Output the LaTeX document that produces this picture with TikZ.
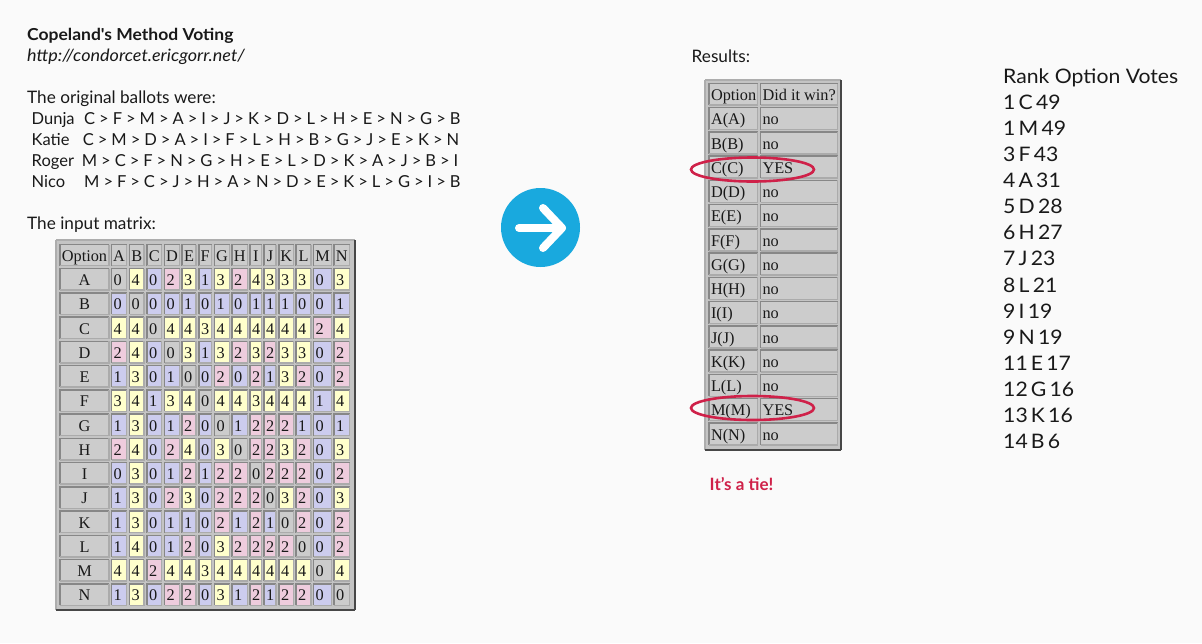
\documentclass[tikz,border=0pt]{standalone}
\usepackage{fontspec}
\setmainfont{Lato}
\newfontfamily\tabfont{Liberation Serif}
\newfontfamily\widefont[FakeStretch=1.06]{Lato}
\newfontfamily\urlfont[ItalicFont={Lato Italic},ItalicFeatures={FakeStretch=1.06}]{Lato}
\usetikzlibrary{shapes.geometric}
\definecolor{pagebg}{HTML}{FAFAFA}
\definecolor{tabbg}{HTML}{C4C4C4}
\definecolor{cgray}{HTML}{CCCCCC}
\definecolor{cyel}{HTML}{FFFFCC}
\definecolor{cpur}{HTML}{CCCCEE}
\definecolor{cpink}{HTML}{EECCDD}
\definecolor{tiered}{HTML}{CF2149}
\definecolor{arrowblue}{HTML}{19A9DE}
\newcommand\tightwords{\spaceskip=4pt\relax}
\newcommand\rankwords{\spaceskip=3.2pt\relax}
\tikzset{
  x=1pt,y=-1pt,
  body/.style={anchor=base west,inner sep=0pt,font=\fontsize{17.2}{20}\selectfont,text=black!90},
  ballot/.style={anchor=base west,inner sep=0pt,font=\fontsize{16.5}{20}\selectfont,text=black!90},
  rankrow/.style={anchor=base west,inner sep=0pt,font=\widefont\fontsize{20}{24}\selectfont,text=black!90},
  cellbox/.style={inner sep=0pt,outer sep=0pt,text height=13.5pt,text depth=1pt,font=\tabfont\fontsize{16.3}{20}\selectfont,text=black!90},
  bevdark/.style={draw=black!47,line width=1.5pt},
  bevlight/.style={draw=black!33,line width=1.5pt},
  ring/.style={draw=tiered,line width=2.6pt,ellipse,inner sep=0pt,minimum width=123pt,minimum height=24pt},
  arrowline/.style={white,line width=8pt,line cap=round,line join=round},
}
% name, x0, y0, x1, y1, fill, text, alignment (c or l)
\newcommand\bcell[8]{%
  \pgfmathsetmacro\cw{#4-#2}\pgfmathsetmacro\ch{#5-#3}\pgfmathsetmacro\iw{\cw-4}%
  \node[cellbox,fill=#6,minimum width=\cw pt,minimum height=\ch pt] (#1) at ({(#2+#4)/2},{(#3+#5)/2}) {\makebox[\iw pt][#8]{#7}};
  \draw[bevdark] (#1.south west)--(#1.north west)--(#1.north east);
  \draw[bevlight] (#1.north east)--(#1.south east)--(#1.south west);
}
\newcommand\outerframe[5]{%
  \fill[tabbg] (#2,#3) rectangle (#4,#5);
  \coordinate (#1nw) at (#2,#3);\coordinate (#1se) at (#4,#5);
  \draw[draw=black!32,line width=2pt] (#1nw)--(#1nw-|#1se);
  \draw[draw=black!32,line width=2pt] (#1nw)--(#1nw|-#1se);
  \draw[draw=black!72,line width=2pt] (#1se)--(#1se-|#1nw);
  \draw[draw=black!72,line width=2pt] (#1se)--(#1se|-#1nw);
}
\begin{document}
\begin{tikzpicture}
\useasboundingbox (0,0) rectangle (1202,643);
\fill[pagebg] (0,0) rectangle (1202,643);
% left texts
\node[body,font=\widefont\fontsize{16.5}{20}\selectfont\bfseries] (title) at (27,40) {Copeland\symbol{39}s Method Voting};
\node[body,font=\urlfont\fontsize{17}{20}\selectfont\itshape] (url) at (27,61) {http://condorcet.ericgorr.net/};
\node[body] (orig) at (27,103) {The original ballots were:};
\foreach \nm/\yy/\who/\xb/\bal in {
 d/124/Dunja/84/{C > F > M > A > I > J > K > D > L > H > E > N > G > B},
 k/145/Katie/82.7/{C > M > D > A > I > F > L > H > B > G > J > E > K > N},
 r/166/Roger/81.7/{M > C > F > N > G > H > E > L > D > K > A > J > B > I},
 n/187/Nico/84/{M > F > C > J > H > A > N > D > E > K > L > G > I > B}}{
  \node[ballot] (who\nm) at (31.5,\yy) {\who};
  \node[ballot] (bal\nm) at (\xb,\yy) {\tightwords\bal};
}
\node[body] (inp) at (27,229) {The input matrix:};
% input matrix
\outerframe{oa}{56}{240}{354.5}{609.5}
\def\colL{{111.5,129.5,147,164.5,182,199,214.5,232,250,264,279,296,313.5,334}}
\def\colR{{126.5,144,161.5,179.5,196,211.5,229.5,247.5,261.5,276,293.5,311,331.5,349.5}}
\bcell{hopt}{60}{244.5}{109}{265.5}{cgray}{Option}{c}
\foreach \c [count=\i from 0] in {A,B,C,D,E,F,G,H,I,J,K,L,M,N}{
  \pgfmathsetmacro\xa{\colL[\i]}\pgfmathsetmacro\xb{\colR[\i]}
  \bcell{h\c}{\xa}{244.5}{\xb}{265.5}{cgray}{\c}{c}
}
\foreach \r/\vals [count=\j from 0] in {
 A/{0,4,0,2,3,1,3,2,4,3,3,3,0,3},
 B/{0,0,0,0,1,0,1,0,1,1,1,0,0,1},
 C/{4,4,0,4,4,3,4,4,4,4,4,4,2,4},
 D/{2,4,0,0,3,1,3,2,3,2,3,3,0,2},
 E/{1,3,0,1,0,0,2,0,2,1,3,2,0,2},
 F/{3,4,1,3,4,0,4,4,3,4,4,4,1,4},
 G/{1,3,0,1,2,0,0,1,2,2,2,1,0,1},
 H/{2,4,0,2,4,0,3,0,2,2,3,2,0,3},
 I/{0,3,0,1,2,1,2,2,0,2,2,2,0,2},
 J/{1,3,0,2,3,0,2,2,2,0,3,2,0,3},
 K/{1,3,0,1,1,0,2,1,2,1,0,2,0,2},
 L/{1,4,0,1,2,0,3,2,2,2,2,0,0,2},
 M/{4,4,2,4,4,3,4,4,4,4,4,4,0,4},
 N/{1,3,0,2,2,0,3,1,2,1,2,2,0,0}}{
  \pgfmathsetmacro\ya{268.5+24.25*\j}\pgfmathsetmacro\yb{\ya+21.5}
  \bcell{r\r}{60}{\ya}{109}{\yb}{cgray}{\r}{c}
  \foreach \v [count=\i from 0] in \vals {
    \pgfmathsetmacro\xa{\colL[\i]}\pgfmathsetmacro\xb{\colR[\i]}
    \pgfmathtruncatemacro\kk{\v}
    \ifnum\i=\j \def\fc{cgray}\else
      \ifnum\kk<2 \def\fc{cpur}\else
        \ifnum\kk=2 \def\fc{cpink}\else \def\fc{cyel}\fi\fi\fi
    \bcell{c\r\i}{\xa}{\ya}{\xb}{\yb}{\fc}{\v}{l}
  }
}
% arrow
\node[circle,fill=arrowblue,minimum size=79pt,inner sep=0pt] (go) at (540.5,227.5) {};
\coordinate (tail) at (519,228);\coordinate (tip) at (562,228);
\coordinate (headup) at (543,208);\coordinate (headdown) at (543,248);
\draw[arrowline] (tail)--(tip);
\draw[arrowline] (headup)--(tip)--(headdown);
% results
\node[body] (res) at (691.5,62) {Results:};
\outerframe{ob}{705}{80}{841}{449.5}
\bcell{hro}{709}{83.5}{757.5}{105}{cgray}{Option}{l}
\bcell{hrw}{760.5}{83.5}{837.5}{105}{cgray}{Did it win?}{l}
\foreach \c/\ans [count=\j from 0] in {A/no,B/no,C/YES,D/no,E/no,F/no,G/no,H/no,I/no,J/no,K/no,L/no,M/YES,N/no}{
  \pgfmathsetmacro\ya{107.7+24.25*\j}\pgfmathsetmacro\yb{\ya+21.8}
  \bcell{ro\c}{709}{\ya}{757.5}{\yb}{cgray}{\c(\c)}{l}
  \bcell{rw\c}{760.5}{\ya}{837.5}{\yb}{cgray}{\ans}{l}
}
\node[ring] (ringC) at (752.5,169.5) {};
\node[ring] (ringM) at (752.5,408) {};
\node[body,font=\fontsize{17}{20}\selectfont\bfseries,text=tiered] (tie) at (709.5,490) {It\symbol{39}s a tie!};
% rank
\node[rankrow] (rh) at (1003,83) {Rank Option Votes};
\foreach \t [count=\j from 0] in {1 C 49,1 M 49,3 F 43,4 A 31,5 D 28,6 H 27,7 J 23,8 L 21,9 I 19,9 N 19,11 E 17,12 G 16,13 K 16,14 B 6}{
  \pgfmathsetmacro\yy{109.3+26.1*\j}
  \node[rankrow] (rk\j) at (1003,\yy) {\rankwords\t};
}
\end{tikzpicture}
\end{document}
